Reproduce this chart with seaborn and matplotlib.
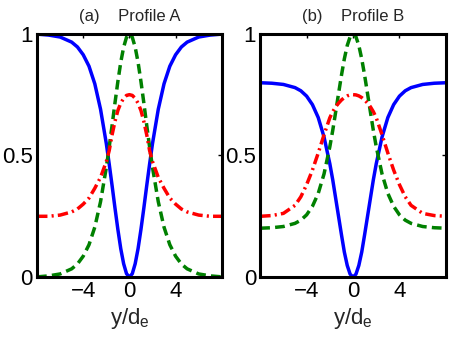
import matplotlib
matplotlib.use('Agg')
import matplotlib.pyplot as plt
import pandas as pd
import seaborn as sns

# sample positions y/d_e
x_vals = [-8, -7, -6, -5, -4.5, -4, -3.5, -3, -2.5, -2, -1.75, -1.5, -1.25, -1, -0.75, -0.5, -0.25,
          0, 0.25, 0.5, 0.75, 1, 1.25, 1.5, 1.75, 2, 2.5, 3, 3.5, 4, 4.5, 5, 6, 7, 8]

# profile A
blue_a = [0.999, 0.995, 0.987, 0.966, 0.946, 0.914, 0.867, 0.795, 0.69, 0.549, 0.465, 0.376, 0.284, 0.196,
          0.117, 0.055, 0.014, 0, 0.014, 0.055, 0.117, 0.196, 0.284, 0.376, 0.465, 0.549, 0.69, 0.795,
          0.867, 0.914, 0.946, 0.966, 0.987, 0.995, 0.999]
green_a = [0.001, 0.005, 0.013, 0.034, 0.054, 0.086, 0.133, 0.205, 0.31, 0.451, 0.535, 0.624, 0.716, 0.804,
           0.883, 0.945, 0.986, 1, 0.986, 0.945, 0.883, 0.804, 0.716, 0.624, 0.535, 0.451, 0.31, 0.205,
           0.133, 0.086, 0.054, 0.034, 0.013, 0.005, 0.001]
red_a = [0.25, 0.25, 0.255, 0.268, 0.28, 0.3, 0.325, 0.365, 0.41, 0.475, 0.52, 0.585, 0.64, 0.685,
         0.715, 0.735, 0.747, 0.75, 0.747, 0.735, 0.715, 0.685, 0.64, 0.585, 0.52, 0.475, 0.41, 0.365,
         0.325, 0.3, 0.28, 0.268, 0.255, 0.25, 0.25]

# profile B
blue_b = [0.799, 0.797, 0.792, 0.779, 0.766, 0.744, 0.709, 0.656, 0.576, 0.466, 0.4, 0.325, 0.25, 0.175,
          0.103, 0.048, 0.012, 0, 0.012, 0.048, 0.103, 0.175, 0.25, 0.325, 0.4, 0.466, 0.576, 0.656,
          0.709, 0.744, 0.766, 0.779, 0.792, 0.797, 0.799]
green_b = [0.201, 0.203, 0.208, 0.221, 0.234, 0.256, 0.291, 0.344, 0.424, 0.536, 0.603, 0.678, 0.754, 0.829,
           0.897, 0.952, 0.988, 1, 0.988, 0.952, 0.897, 0.829, 0.754, 0.678, 0.603, 0.536, 0.424, 0.344,
           0.291, 0.256, 0.234, 0.221, 0.208, 0.203, 0.201]
red_b = [0.25, 0.253, 0.262, 0.295, 0.33, 0.38, 0.44, 0.51, 0.585, 0.655, 0.68, 0.70, 0.715, 0.728,
         0.738, 0.745, 0.749, 0.75, 0.749, 0.745, 0.738, 0.728, 0.715, 0.70, 0.68, 0.655, 0.585, 0.51,
         0.44, 0.38, 0.33, 0.295, 0.262, 0.253, 0.25]

panel_titles = ['(a)    Profile A', '(b)    Profile B']
x_ticks = [-4, 0, 4]
y_ticks = [0, 0.5, 1]
y_ticklabels = ['0', '0.5', '1']

sns.set_style('white')
plt.rcParams['font.family'] = ['Liberation Sans', 'DejaVu Sans']
plt.rcParams['mathtext.default'] = 'regular'

LW = 2.5
styles = {
    'blue': dict(color=(0, 0, 1), linestyle='-'),
    'green': dict(color=(0, 0.5, 0), linestyle=(0, (2.8, 1.5))),
    'red': dict(color=(1, 0, 0), linestyle=(0, (3.0, 1.2, 0.6, 1.2))),
}

fig = plt.figure(figsize=(4.63, 3.49), dpi=100)
ax_a = fig.add_axes([0.080, 0.206, 0.399, 0.697])
ax_b = fig.add_axes([0.562, 0.206, 0.401, 0.697])

profiles = [(ax_a, blue_a, green_a, red_a), (ax_b, blue_b, green_b, red_b)]
for idx, (ax, blue, green, red) in enumerate(profiles):
    df = pd.DataFrame({'x': x_vals, 'blue': blue, 'green': green, 'red': red})
    for name in ['blue', 'green', 'red']:
        sns.lineplot(data=df, x='x', y=name, ax=ax, linewidth=LW, **styles[name])
    ax.set_xlim(-8, 8)
    ax.set_ylim(0, 1)
    ax.set_xticks(x_ticks)
    ax.set_yticks(y_ticks)
    ax.set_yticklabels(y_ticklabels)
    ax.tick_params(direction='in', length=3, width=1, top=True, right=True,
                   labelsize=16, pad=3, colors='black')
    for sp in ax.spines.values():
        sp.set_linewidth(2.2)
        sp.set_color('black')
    ax.set_ylabel('')
    ax.set_xlabel('y/d$_e$', fontsize=16, labelpad=3)
    ax.set_title(panel_titles[idx], fontsize=12, pad=9)

fig.savefig('out.png', dpi=100)
